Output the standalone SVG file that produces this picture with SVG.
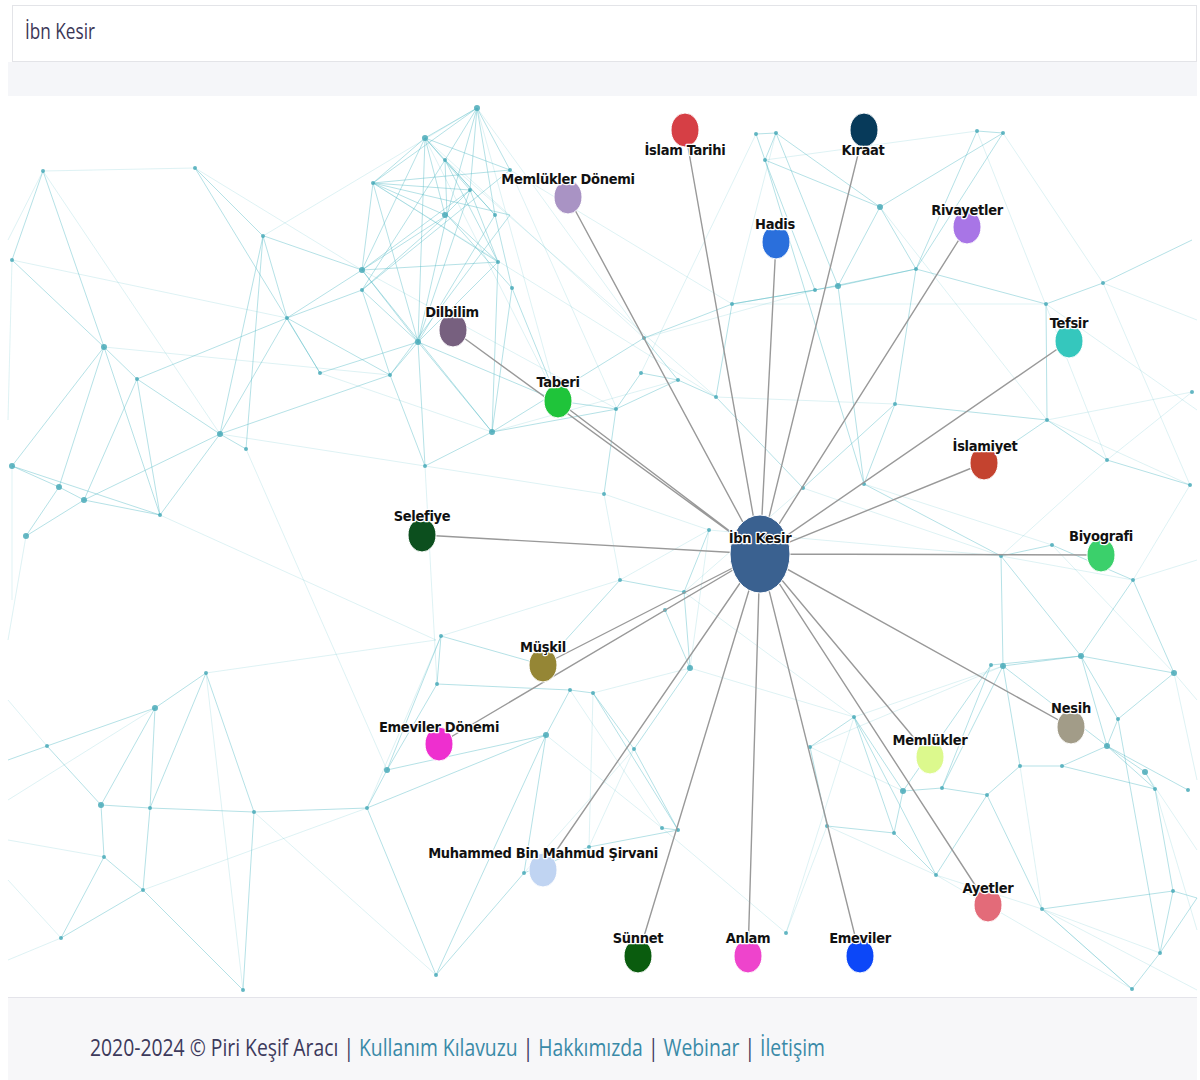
<svg xmlns="http://www.w3.org/2000/svg" width="1200" height="1080" viewBox="0 0 1200 1080">
<style>
.lbl{font-family:"DejaVu Sans Condensed","DejaVu Sans","Liberation Sans",sans-serif;font-weight:bold;font-size:14.5px;letter-spacing:-0.3px;fill:#111;text-anchor:middle;stroke:#fff;stroke-width:2.5px;paint-order:stroke;stroke-linejoin:round}
.nd{stroke:#fff;stroke-width:1}
.sp{stroke:#999;stroke-width:1.4;fill:none}
.bgs{stroke:#5bbcc8;stroke-width:1;fill:none;opacity:.45}
.bgl{stroke:#5bbcc8;stroke-width:1;fill:none;opacity:.2}
.dot{stroke:#4aaab8;stroke-linecap:round;fill:none;opacity:.85}
.ft{font-family:"Open Sans","Lato",sans-serif;font-size:23px;fill:#3d3a5c}
.lk{fill:#3a8aa8}
</style>
<rect width="1200" height="1080" fill="#fff"/>
<!-- search bar -->
<rect x="8" y="62" width="1189" height="34" fill="#f5f6f9"/>
<rect x="12.5" y="5.5" width="1184" height="56" fill="#fff" stroke="#e3e4e8"/>
<text x="25" y="39" font-family="Open Sans,Lato,sans-serif" font-size="21" fill="#3b3656" textLength="70" lengthAdjust="spacingAndGlyphs">İbn Kesir</text>
<!-- background network -->
<g id="background-network">
<path class="bgs" d="M477,108L425,138M477,108L445,160M477,108L510,170M477,108L470,190M477,108L373,183M425,138L373,183M425,138L445,215M425,138L470,190M425,138L510,170M425,138L362,270M373,183L445,215M373,183L362,270M373,183L418,342M373,183L470,190M373,183L510,215M445,160L447,215M445,160L495,215M470,190L445,215M470,190L498,262M470,190L362,270M447,215L498,262M447,215L362,270M447,215L418,342M447,215L362,290M447,215L512,288M495,215L512,288M495,215L418,342M498,262L418,342M498,262L362,270M498,262L492,432M362,270L418,342M362,290L418,342M362,290L390,375M362,270L264,236M362,290L287,318M418,342L492,432M418,342L390,375M418,342L425,466M390,375L425,466M492,432L425,466M512,288L492,432M512,288L558,401M492,432L617,409M492,432L644,338M418,342L558,401M373,183L510,170M425,138L495,215M445,160L498,262M470,190L418,342M477,108L495,215M477,108L447,215M445,160L362,290M510,170L362,290M510,215L390,375M373,183L498,262M425,138L418,342M362,270L492,432
M43,171L12,260M43,171L104,347M195,168L263,236M195,168L320,373M263,236L287,318M263,236L246,449M263,236L220,434M287,318L362,270M287,318L320,373M287,318L220,434M287,318L137,379M104,347L137,379M104,347L59,487M104,347L12,466M104,347L160,515M137,379L220,434M137,379L160,515M137,379L84,500M220,434L246,449M220,434L84,500M220,434L160,515M59,487L84,500M59,487L12,466M59,487L26,536M84,500L160,515M12,466L160,515M26,536L84,500M12,260L104,347M320,373L418,342M287,318L390,375M220,434L390,375
M765,160L776,133M765,160L756,134M756,134L776,133M776,133L838,286M765,160L815,290M765,160L880,207M776,133L880,207M880,207L916,269M880,207L838,286M916,269L838,286M916,269L815,290M815,290L732,304M838,286L732,304M732,304L644,338M732,304L716,397M644,338L678,380M678,380L716,397M678,380L616,409M641,373L616,409M641,373L678,380M616,409L604,494M616,409L558,401M716,397L803,488M838,286L864,484M895,404L864,484M895,404L803,488M895,404L1047,420M916,269L1046,304M977,131L1003,133M977,131L916,269M1003,133L916,269M1046,304L1103,283M1046,304L1047,420M1047,420L1107,460M1107,460L1190,485M1047,420L984,463M864,484L1001,556M895,404L916,269M1103,283L1192,240M1003,133L880,207M765,160L864,484
M1001,556L1052,545M1052,545L1133,580M1001,556L1003,666M1001,556L1081,656M1133,580L1081,656M1133,580L1174,673M1081,656L1003,666M1081,656L991,665M1081,656L1118,719M1081,656L1107,746M1003,666L1020,766M991,665L942,788M991,665L903,791M1118,719L1107,746M1107,746L1145,772M1107,746L1155,789M1174,673L1118,719M1145,772L1155,789M1020,766L1062,766M1062,766L1107,746M1020,766L987,795M942,788L987,795M903,791L942,788M903,791L854,717M854,717L810,747M903,791L894,833M894,833L827,826M854,717L894,833M936,875L894,833M936,875L987,795M1042,909L987,795M1042,909L1173,891M1173,891L1197,898M1155,789L1173,891M1173,891L1160,953M1160,953L1132,989M1160,953L1197,898M1042,909L1132,989M1003,666L942,788M1003,666L1107,746M1081,656L1174,673M1062,766L1155,789M810,747L827,826M936,875L854,717M1107,746L1188,790M1118,719L1160,953
M155,708L206,673M155,708L47,746M155,708L101,805M155,708L150,808M206,673L254,812M206,673L150,808M47,746L101,805M47,746L8,760M101,805L150,808M101,805L104,857M150,808L254,812M150,808L143,890M104,857L143,890M104,857L61,938M143,890L243,990M61,938L143,890M254,812L243,990M254,812L367,808M367,808L387,770M387,770L441,636M387,770L437,684M437,684L441,636M367,808L436,975M387,770L546,735M437,684L570,690M441,636L543,665M546,735L570,690M570,690L593,693M593,693L634,749M546,735L524,873M593,693L678,830M634,749L678,830M678,830L589,847M589,847L524,873M524,873L436,975M662,828L678,830M690,668L634,749M690,668L684,592M684,592L709,530M620,580L684,592M620,580L543,665M665,610L690,668M436,975L546,735M367,808L546,735"/>
<path class="bgl" d="M195,168L43,171M195,168L362,270M12,260L287,318M43,171L220,434M263,236L477,108M320,373L492,432M104,347L390,375M220,434L425,466M425,466L604,494M425,466L437,684M492,432L678,380M477,108L558,401M425,138L644,338M373,183L716,397M510,170L732,304M362,270L617,409M644,338L815,290M716,397L895,404M732,304L1046,304M765,160L977,131M1003,133L1103,283M1103,283L1190,485M1047,420L1192,392M1190,485L1133,580M1107,460L1001,556M864,484L1052,545M803,488L1001,556M709,530L1001,556M604,494L709,530M604,494L620,580M690,668L854,717M684,592L854,717M810,747L903,791M827,826L936,875M1042,909L1160,953M1132,989L1042,909M936,875L1132,989M786,933L827,826M786,933L854,717M1197,700L1174,673M1192,392L1107,460M12,466L12,600M26,536L8,640M160,515L436,640M246,449L387,770M61,938L8,880M47,746L8,700M243,990L206,673M436,975L254,812M143,890L367,808M441,636L620,580M593,693L690,668M589,847L634,749M662,828L786,933M1020,766L1042,909M1145,772L1197,850M1155,789L1197,930M43,171L8,240M12,260L8,420M477,108L644,338M510,170L617,409M445,160L716,397M425,138L558,401M1103,283L1197,320M1046,304L1197,410M977,131L1107,460M756,134L641,373M776,133L732,304M880,207L1047,420M1047,420L1190,485M709,530L620,580M1001,556L1133,580M1052,545L1174,673M1133,580L1197,560M854,717L1003,666M810,747L1003,666M936,875L1042,909M1042,909L1197,990M1174,673L1197,780M61,938L8,960M104,857L8,840M155,708L8,800M206,673L436,640M441,636L367,808M546,735L662,828M570,690L662,828M593,693L589,847M634,749L524,873M690,668L709,530M684,592L803,488"/>
<path class="dot" stroke-width="6" d="M477,108h0M425,138h0M445,215h0M362,270h0M418,342h0M492,432h0M104,347h0M220,434h0M59,487h0M84,500h0M26,536h0M12,466h0M838,286h0M880,207h0M1081,656h0M1003,666h0M1107,746h0M1174,673h0M903,791h0M155,708h0M101,805h0M387,770h0M546,735h0M690,668h0M1145,772h0"/>
<path class="dot" stroke-width="4" d="M373,183h0M445,160h0M470,190h0M495,215h0M510,170h0M362,290h0M390,375h0M425,466h0M512,288h0M498,262h0M43,171h0M195,168h0M263,236h0M287,318h0M137,379h0M246,449h0M160,515h0M12,260h0M320,373h0M765,160h0M776,133h0M756,134h0M815,290h0M916,269h0M732,304h0M644,338h0M678,380h0M716,397h0M641,373h0M616,409h0M604,494h0M803,488h0M864,484h0M895,404h0M1047,420h0M1046,304h0M977,131h0M1003,133h0M1103,283h0M1107,460h0M1190,485h0M1192,392h0M1001,556h0M1052,545h0M1133,580h0M991,665h0M1118,719h0M1155,789h0M1062,766h0M1020,766h0M987,795h0M942,788h0M854,717h0M810,747h0M894,833h0M827,826h0M936,875h0M1042,909h0M1173,891h0M1160,953h0M1132,989h0M1188,790h0M206,673h0M47,746h0M150,808h0M254,812h0M104,857h0M143,890h0M61,938h0M243,990h0M436,975h0M367,808h0M441,636h0M437,684h0M570,690h0M593,693h0M634,749h0M678,830h0M589,847h0M662,828h0M524,873h0M684,592h0M709,530h0M620,580h0M665,610h0M786,933h0"/>
</g>
<!-- connectors -->
<g id="connectors">
<path class="sp" d="M760,554L685,130M760,554L864,130M760,554L568,197M760,554L776,242M760,554L967,227M760,554L453,330M760,554L1069,341M760,554L558,401M760,554L984,463M760,554L422,535M760,554L1101,555M760,554L543,665M760,554L1071,727M760,554L930,757M760,554L439,744M760,554L543,870M760,554L988,905M760,554L638,956M760,554L748,956M760,554L860,956"/>
</g>
<!-- nodes -->
<g id="node-islam-tarihi"><ellipse class="nd" cx="685" cy="130" rx="14" ry="17" fill="#d63f45"/><text class="lbl" x="685" y="155">İslam Tarihi</text></g>
<g id="node-kiraat"><ellipse class="nd" cx="864" cy="130" rx="14" ry="17" fill="#073a5a"/><text class="lbl" x="863" y="155">Kıraat</text></g>
<g id="node-memlukler-donemi"><ellipse class="nd" cx="568" cy="197" rx="14" ry="17" fill="#a993c4"/><text class="lbl" x="568" y="184">Memlükler Dönemi</text></g>
<g id="node-hadis"><ellipse class="nd" cx="776" cy="242" rx="14" ry="17" fill="#2a6fdc"/><text class="lbl" x="775" y="229">Hadis</text></g>
<g id="node-rivayetler"><ellipse class="nd" cx="967" cy="227" rx="14" ry="17" fill="#a875e6"/><text class="lbl" x="967" y="215">Rivayetler</text></g>
<g id="node-dilbilim"><ellipse class="nd" cx="453" cy="330" rx="14" ry="17" fill="#77607f"/><text class="lbl" x="452" y="317">Dilbilim</text></g>
<g id="node-tefsir"><ellipse class="nd" cx="1069" cy="341" rx="14" ry="17" fill="#35c7bd"/><text class="lbl" x="1069" y="328">Tefsir</text></g>
<g id="node-taberi"><ellipse class="nd" cx="558" cy="401" rx="14" ry="17" fill="#1fc43a"/><text class="lbl" x="558" y="387">Taberi</text></g>
<g id="node-islamiyet"><ellipse class="nd" cx="984" cy="463" rx="14" ry="17" fill="#c4432f"/><text class="lbl" x="985" y="451">İslamiyet</text></g>
<g id="node-selefiye"><ellipse class="nd" cx="422" cy="535" rx="14" ry="17" fill="#0c4f1e"/><text class="lbl" x="422" y="521">Selefiye</text></g>
<g id="node-biyografi"><ellipse class="nd" cx="1101" cy="555" rx="14" ry="17" fill="#3bd06b"/><text class="lbl" x="1101" y="541">Biyografi</text></g>
<g id="node-muskil"><ellipse class="nd" cx="543" cy="665" rx="14" ry="17" fill="#958635"/><text class="lbl" x="543" y="652">Müşkil</text></g>
<g id="node-nesih"><ellipse class="nd" cx="1071" cy="727" rx="14" ry="17" fill="#a29c88"/><text class="lbl" x="1071" y="713">Nesih</text></g>
<g id="node-memlukler"><ellipse class="nd" cx="930" cy="757" rx="14" ry="17" fill="#dcf98d"/><text class="lbl" x="930" y="745">Memlükler</text></g>
<g id="node-emeviler-donemi"><ellipse class="nd" cx="439" cy="744" rx="14" ry="17" fill="#ee2fcf"/><text class="lbl" x="439" y="732">Emeviler Dönemi</text></g>
<g id="node-sirvani"><ellipse class="nd" cx="543" cy="870" rx="14" ry="17" fill="#c0d4f2"/><text class="lbl" x="543" y="858">Muhammed Bin Mahmud Şirvani</text></g>
<g id="node-ayetler"><ellipse class="nd" cx="988" cy="905" rx="14" ry="17" fill="#e36b79"/><text class="lbl" x="988" y="893">Ayetler</text></g>
<g id="node-sunnet"><ellipse class="nd" cx="638" cy="956" rx="14" ry="17" fill="#0a5c0e"/><text class="lbl" x="638" y="943">Sünnet</text></g>
<g id="node-anlam"><ellipse class="nd" cx="748" cy="956" rx="14" ry="17" fill="#ee44cc"/><text class="lbl" x="748" y="943">Anlam</text></g>
<g id="node-emeviler"><ellipse class="nd" cx="860" cy="956" rx="14" ry="17" fill="#0c47f8"/><text class="lbl" x="860" y="943">Emeviler</text></g>
<g id="node-ibn-kesir"><ellipse class="nd" cx="760" cy="554" rx="30" ry="39" fill="#3a6190"/><text class="lbl" x="760" y="543">İbn Kesir</text></g>
<!-- footer -->
<rect x="8" y="997" width="1189" height="83" fill="#f7f7f9"/>
<line x1="8" y1="997.5" x2="1197" y2="997.5" stroke="#e4e4ea"/>
<text class="ft" x="90" y="1056" textLength="735" lengthAdjust="spacingAndGlyphs">2020-2024 © Piri Keşif Aracı | <tspan class="lk">Kullanım Kılavuzu</tspan> | <tspan class="lk">Hakkımızda</tspan> | <tspan class="lk">Webinar</tspan> | <tspan class="lk">İletişim</tspan></text>
</svg>
